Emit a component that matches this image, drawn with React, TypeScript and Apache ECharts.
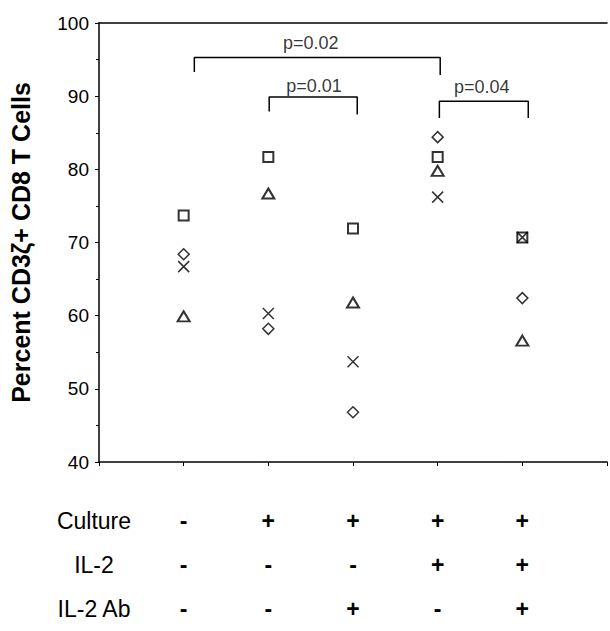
import React, { useEffect, useRef } from "react";
import * as echarts from "echarts";

// Columns are placed at x = 1..5 on a value axis 0..6
const columnX = [1, 2, 3, 4, 5];
const rowNames = ["Culture", "IL-2", "IL-2 Ab"];
const cultureSigns = ["-", "+", "+", "+", "+"];
const il2Signs = ["-", "-", "-", "+", "+"];
const il2AbSigns = ["-", "-", "+", "-", "+"];

const squareVals = [73.7, 81.7, 71.9, 81.7, 70.7];
const diamondVals = [68.4, 58.2, 46.8, 84.4, 62.4];
const triangleVals = [59.9, 76.7, 61.8, 79.8, 56.6];
const crossVals = [66.7, 60.3, 53.7, 76.2, 70.7];

const yTicks = [40, 50, 60, 70, 80, 90, 100];

const bracket002 = [[1.126, 93.3], [1.126, 95.3], [4.03, 95.3], [4.03, 92.9]];
const bracket001 = [[2.01, 87.9], [2.01, 89.9], [3.05, 89.9], [3.05, 87.5]];
const bracket004 = [[4.02, 87.0], [4.02, 89.3], [5.07, 89.3], [5.07, 87.0]];
const pTexts = ["p=0.02", "p=0.01", "p=0.04"];
const pPositions = [[2.5, 97.3], [2.54, 91.4], [4.52, 91.3]];

const FONT = "Arial, 'Liberation Sans', Helvetica, sans-serif";
const CROSS = "path://M0,0L10,10M10,0L0,10";

export default function App() {
  const ref = useRef<HTMLDivElement>(null);
  useEffect(() => {
    if (!ref.current) return;
    const chart = echarts.init(ref.current, null, { renderer: "svg" });
    const pts = (vals: number[]) => vals.map((v, i) => [columnX[i], v]);
    const markerBase = {
      type: "scatter" as const,
      itemStyle: { color: "#fff", borderColor: "#000", borderWidth: 2 },
      z: 5,
    };
    const bracketSeries = (d: number[][]) => ({
      type: "line" as const,
      data: d,
      symbol: "none",
      lineStyle: { color: "#000", width: 1.5 },
      z: 3,
    });
    chart.setOption({
      animation: false,
      backgroundColor: "#fff",
      grid: { left: 92, top: 23, width: 522, height: 448 },
      xAxis: [
        {
          type: "value",
          min: 0,
          max: 6,
          interval: 1,
          splitLine: { show: false },
          axisLine: { lineStyle: { color: "#000", width: 1.5 } },
          axisTick: { show: true, inside: false, length: 4, lineStyle: { color: "#000", width: 1 } },
          axisLabel: {
            margin: 37,
            fontFamily: FONT,
            fontSize: 24,
            lineHeight: 44,
            color: "#000",
            align: "center",
            rich: {
              rowName: { fontFamily: FONT, fontSize: 23, lineHeight: 44, color: "#000", padding: [0, 10, 0, 0] },
              sign: { fontFamily: FONT, fontSize: 23, fontWeight: "bold", lineHeight: 44, color: "#000" },
            },
            formatter: (v: number) => {
              const i = Math.round(v);
              if (i === 0) return rowNames.map((r) => `{rowName|${r}}`).join("\n");
              if (i >= 1 && i <= 5)
                return [cultureSigns[i - 1], il2Signs[i - 1], il2AbSigns[i - 1]]
                  .map((s) => `{sign|${s}}`)
                  .join("\n");
              return "";
            },
          },
        },
        {
          type: "value",
          position: "top",
          min: 0,
          max: 6,
          interval: 1,
          splitLine: { show: false },
          axisLine: { show: true, lineStyle: { color: "#000", width: 1.5 } },
          axisTick: { show: false },
          axisLabel: { show: false },
        },
      ],
      yAxis: {
        type: "value",
        min: yTicks[0],
        max: yTicks[yTicks.length - 1],
        interval: 10,
        splitLine: { show: false },
        axisLine: { show: true, lineStyle: { color: "#000", width: 1.5 } },
        axisTick: { show: true, length: 4, lineStyle: { color: "#000" } },
        minorTick: { show: true, splitNumber: 2, length: 3, lineStyle: { color: "#000" } },
        axisLabel: { margin: 10, fontFamily: FONT, fontSize: 19, color: "#000" },
        name: "Percent CD3ζ+ CD8 T Cells",
        nameLocation: "middle",
        nameRotate: 90,
        nameGap: 66,
        nameTextStyle: { fontFamily: FONT, fontSize: 25, fontWeight: "bold", color: "#000" },
      },
      series: [
        { ...markerBase, name: "square", symbol: "rect", symbolSize: 10, data: pts(squareVals) },
        { ...markerBase, name: "diamond", symbol: "diamond", symbolSize: [11, 11], itemStyle: { color: "#fff", borderColor: "#000", borderWidth: 1.5 }, data: pts(diamondVals) },
        { ...markerBase, name: "triangle", symbol: "triangle", symbolSize: [12, 10], data: pts(triangleVals) },
        { ...markerBase, name: "cross", symbol: CROSS, symbolSize: 11, itemStyle: { color: "none", borderColor: "#000", borderWidth: 1.5 }, data: pts(crossVals) },
        bracketSeries(bracket002),
        bracketSeries(bracket001),
        bracketSeries(bracket004),
        {
          type: "scatter",
          symbolSize: 0,
          data: pTexts.map((t, i) => ({ name: t, value: pPositions[i] })),
          label: {
            show: true,
            position: "inside",
            formatter: (p: any) => p.name,
            fontFamily: FONT,
            fontSize: 18,
            color: "#000",
          },
          z: 4,
        },
      ],
    });
    return () => chart.dispose();
  }, []);
  return (
    <div
      ref={ref}
      style={{ position: "fixed", left: 0, top: 0, width: 610, height: 631, background: "#fff" }}
    />
  );
}
